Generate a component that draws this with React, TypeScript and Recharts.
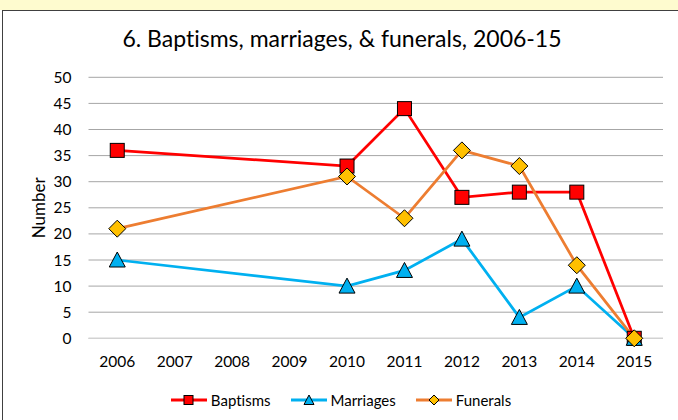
import React from 'react';
import { LineChart, Line, XAxis, YAxis, CartesianGrid } from 'recharts';

const years = ['2006', '2007', '2008', '2009', '2010', '2011', '2012', '2013', '2014', '2015'];
const baptisms: (number | null)[] = [36, null, null, null, 33, 44, 27, 28, 28, 0];
const marriages: (number | null)[] = [15, null, null, null, 10, 13, 19, 4, 10, 0];
const funerals: (number | null)[] = [21, null, null, null, 31, 23, 36, 33, 14, 0];
const yTicks = [0, 5, 10, 15, 20, 25, 30, 35, 40, 45, 50];

const data = years.map((y, i) => ({
  year: y,
  Baptisms: baptisms[i],
  Marriages: marriages[i],
  Funerals: funerals[i],
}));

const FONT = 'Lato, "Open Sans", sans-serif';
const RED = '#FF0000';
const BLUE = '#00B0F0';
const ORANGE = '#ED7D31';
const GOLD = '#FFC000';

const valid = (p: any) => p && p.cx != null && p.cy != null && p.value != null && !isNaN(p.cx) && !isNaN(p.cy);

const SquareDot = (p: any) => {
  if (!valid(p)) return <g key={p?.key} />;
  const s = 14;
  return <rect key={p.key} x={p.cx - s / 2} y={p.cy - s / 2} width={s} height={s} fill={RED} stroke="#000" strokeWidth={1} />;
};
const TriangleDot = (p: any) => {
  if (!valid(p)) return <g key={p?.key} />;
  const w = 16, h = 14;
  const pts = `${p.cx},${p.cy - h / 2 - 1} ${p.cx + w / 2},${p.cy + h / 2} ${p.cx - w / 2},${p.cy + h / 2}`;
  return <polygon key={p.key} points={pts} fill={BLUE} stroke="#000" strokeWidth={1} />;
};
const DiamondDot = (p: any) => {
  if (!valid(p)) return <g key={p?.key} />;
  const r = 8.5;
  const pts = `${p.cx},${p.cy - r} ${p.cx + r},${p.cy} ${p.cx},${p.cy + r} ${p.cx - r},${p.cy}`;
  return <polygon key={p.key} points={pts} fill={GOLD} stroke="#000" strokeWidth={1} />;
};

const legendItems = [
  { name: 'Baptisms', color: RED, marker: 'square' },
  { name: 'Marriages', color: BLUE, marker: 'triangle' },
  { name: 'Funerals', color: ORANGE, marker: 'diamond' },
];

const LegendIcon = ({ color, marker }: { color: string; marker: string }) => (
  <svg width={36} height={14} style={{ display: 'block' }}>
    <line x1={0} y1={7} x2={36} y2={7} stroke={color} strokeWidth={3} />
    {marker === 'square' && <rect x={13} y={2.5} width={9} height={9} fill={RED} stroke="#000" strokeWidth={1} />}
    {marker === 'triangle' && <polygon points="18,2 23,11.5 13,11.5" fill={BLUE} stroke="#000" strokeWidth={1} />}
    {marker === 'diamond' && <polygon points="18,2 23,7 18,12 13,7" fill={GOLD} stroke="#000" strokeWidth={1} />}
  </svg>
);

export default function App() {
  return (
    <div style={{ position: 'absolute', left: 0, top: 0, width: 678, height: 420, background: '#fff', overflow: 'hidden', fontFamily: FONT, fontVariantLigatures: 'none' }}>
      <div style={{ position: 'absolute', left: 0, top: 0, width: 678, height: 10, background: '#FEFBCF' }} />
      <div style={{ position: 'absolute', left: 2, top: 10, width: 700, height: 440, borderLeft: '1px solid #404040', borderTop: '1px solid #404040', boxSizing: 'border-box' }} />
      <div style={{ position: 'absolute', left: 0, top: 24, width: 684, textAlign: 'center', fontSize: 23, color: '#000', fontFamily: FONT, lineHeight: '28px', fontVariantLigatures: 'none' }}>
        6. Baptisms, marriages, &amp; funerals, 2006-15
      </div>
      <div style={{ position: 'absolute', left: 0, top: 0 }}>
        <LineChart width={678} height={420} data={data} margin={{ top: 77.3, right: 15, bottom: 51.7, left: 28.5 }}>
          <CartesianGrid vertical={false} stroke="#A6A6A6" strokeWidth={1} />
          <XAxis
            dataKey="year"
            axisLine={{ stroke: '#D9D9D9', strokeWidth: 1 }}
            tickLine={false}
            tickMargin={12}
            height={30}
            interval={0}
            padding={{ left: 28.75, right: 28.75 }}
            tick={{ fill: '#000', fontSize: 15.5, fontFamily: FONT }}
          />
          <YAxis
            domain={[0, 50]}
            ticks={yTicks}
            width={60}
            axisLine={false}
            tickLine={false}
            tickMargin={11}
            tick={{ fill: '#000', fontSize: 15.5, fontFamily: FONT }}
            label={{ value: 'Number', angle: -90, position: 'insideLeft', offset: 10, style: { textAnchor: 'middle', fill: '#000', fontSize: 17, fontFamily: FONT } }}
          />
          <Line type="linear" dataKey="Baptisms" stroke={RED} strokeWidth={2.75} connectNulls dot={SquareDot} activeDot={false} isAnimationActive={false} />
          <Line type="linear" dataKey="Marriages" stroke={BLUE} strokeWidth={2.75} connectNulls dot={TriangleDot} activeDot={false} isAnimationActive={false} />
          <Line type="linear" dataKey="Funerals" stroke={ORANGE} strokeWidth={2.75} connectNulls dot={DiamondDot} activeDot={false} isAnimationActive={false} />
        </LineChart>
      </div>
      <div style={{ position: 'absolute', left: 2, top: 390, width: 678, display: 'flex', justifyContent: 'center', alignItems: 'center', gap: 20, fontSize: 15, fontFamily: FONT, color: '#000' }}>
        {legendItems.map((it) => (
          <div key={it.name} style={{ display: 'flex', alignItems: 'center', gap: 4 }}>
            <LegendIcon color={it.color} marker={it.marker} />
            <span style={{ lineHeight: '20px' }}>{it.name}</span>
          </div>
        ))}
      </div>
    </div>
  );
}
